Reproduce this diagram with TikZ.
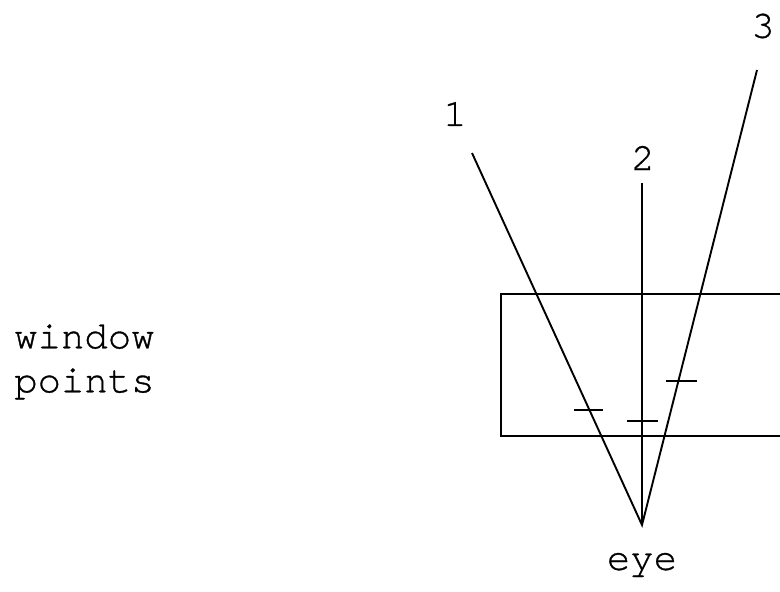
\documentclass[tikz,border=0pt]{standalone}
\usepackage{fontspec}
\newfontfamily\cursorfont[FakeBold=0.8]{TeX Gyre Cursor}
\begin{document}
\begin{tikzpicture}[x=1pt,y=-1pt,
  ray/.style={line width=1.9pt,black},
  tickmark/.style={line width=1.9pt,black},
  lbl/.style={font=\fontsize{39}{44}\selectfont\cursorfont,inner sep=0pt},
  every node/.style={inner sep=0pt}]
\useasboundingbox (0,0) rectangle (780,592);
% window rectangle (right edge beyond picture)
\draw[ray] (790,294) -- (501,294) -- (501,436) -- (790,436);
% eye and ray ends
\coordinate (eyept) at (642,525);
\coordinate (r1) at (472,153);
\coordinate (r2) at (642,183);
\coordinate (r3) at (757,70);
\draw[ray] (r1) -- (eyept) -- (r3);
\draw[ray] (r2) -- (eyept);
% tick marks on rays
\draw[tickmark] (574,410) -- (603,410);
\draw[tickmark] (627,421) -- (658,421);
\draw[tickmark] (666,381) -- (697,381);
% labels
\node[lbl] (l1) at (455,114) {1};
\node[lbl] (l2) at (643,158) {2};
\node[lbl] (l3) at (763,26) {3};
\node[lbl] (eye) at (642,565) {eye};
\node[lbl,align=left,anchor=west] (wp) at (14,362) {window\\points};
\end{tikzpicture}
\end{document}
